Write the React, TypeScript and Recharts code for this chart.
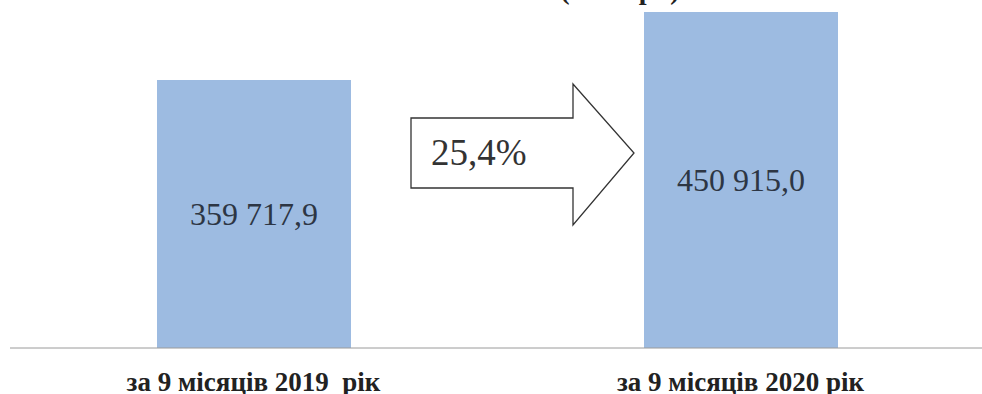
import { Bar, BarChart, Customized, LabelList, XAxis, YAxis } from "recharts";

// nbsp keeps the double space of the original label
const periods = ["за 9 місяців 2019 \u00a0рік", "за 9 місяців 2020 рік"];
const amounts = [359717.9, 450915.0];
const growthLabel = "25,4%";
const unitTitle = "(тис. грн)";

const data = periods.map((name, i) => ({ name, value: amounts[i] }));

const SERIF = "Liberation Serif";
const BAR = "#9dbbe1";

function fmt(v: number) {
  const [int, dec] = v.toFixed(1).split(".");
  return int.replace(/\B(?=(\d{3})+(?!\d))/g, " ") + "," + dec;
}

// big hollow arrow between the bars + cut-off title at the top
function Decor() {
  const pts = "411,118 573,118 573,84 634,153 573,225 573,188 411,188";
  return (
    <g>
      <text x={620} y={-1} textAnchor="middle" fontSize={28} fontWeight={700} fontFamily={SERIF} fill="#222">
        {unitTitle}
      </text>
      <polygon points={pts} fill="#fff" stroke="#333" strokeWidth={1.3} />
      <text x={431} y={165} fontSize={37} fontFamily={SERIF} fill="#333">
        {growthLabel}
      </text>
    </g>
  );
}

export default function App() {
  return (
    <div style={{ position: "absolute", left: 0, top: 0, background: "#fff", fontFamily: SERIF }}>
      <BarChart
        width={982}
        height={394}
        data={data}
        margin={{ top: 12, right: -2, left: 10, bottom: 0 }}
      >
        <YAxis hide domain={[0, 450915]} />
        <XAxis
          dataKey="name"
          height={46}
          tickLine={false}
          axisLine={{ stroke: "#9a9a9a", strokeWidth: 1 }}
          tickMargin={18}
          tick={{ fontSize: 27, fontWeight: 700, fill: "#222", fontFamily: SERIF }}
          interval={0}
        />
        <Bar dataKey="value" fill={BAR} barSize={194} isAnimationActive={false}>
          <LabelList
            dataKey="value"
            position="center"
            formatter={(v: number) => fmt(v)}
            fontSize={32}
            fontFamily={SERIF}
            fill="#2d3644"
          />
        </Bar>
        <Customized component={Decor} />
      </BarChart>
    </div>
  );
}
